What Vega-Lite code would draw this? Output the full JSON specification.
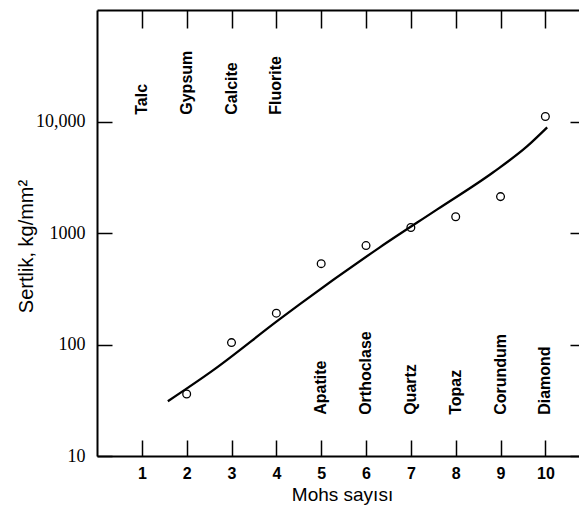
{
  "$schema": "https://vega.github.io/schema/vega-lite/v6.json",
  "width": 482,
  "height": 446,
  "autosize": {"type": "none"},
  "padding": {"left": 97, "top": 10, "right": 0, "bottom": 52},
  "background": "white",
  "config": {
    "view": {"stroke": null},
    "axis": {"grid": false, "domainColor": "black", "tickColor": "black", "domainWidth": 2, "tickWidth": 1.5, "labelColor": "black", "titleColor": "black"}
  },
  "datasets": {
    "minerals": [
      {"mohs": 1, "mineral": "Talc", "hardness": null},
      {"mohs": 2, "mineral": "Gypsum", "hardness": 36},
      {"mohs": 3, "mineral": "Calcite", "hardness": 104},
      {"mohs": 4, "mineral": "Fluorite", "hardness": 191},
      {"mohs": 5, "mineral": "Apatite", "hardness": 531},
      {"mohs": 6, "mineral": "Orthoclase", "hardness": 771},
      {"mohs": 7, "mineral": "Quartz", "hardness": 1120},
      {"mohs": 8, "mineral": "Topaz", "hardness": 1400},
      {"mohs": 9, "mineral": "Corundum", "hardness": 2120},
      {"mohs": 10, "mineral": "Diamond", "hardness": 11100}
    ],
    "fit": [
      {"mohs": 1.58, "hardness": 31},
      {"mohs": 2.57, "hardness": 58},
      {"mohs": 4.06, "hardness": 167},
      {"mohs": 4.51, "hardness": 228},
      {"mohs": 6.3, "hardness": 740},
      {"mohs": 7.58, "hardness": 1620},
      {"mohs": 8.83, "hardness": 3490},
      {"mohs": 9.59, "hardness": 5970},
      {"mohs": 10.04, "hardness": 8850}
    ]
  },
  "resolve": {"axis": {"x": "independent", "y": "independent"}},
  "layer": [
    {
      "data": {"name": "fit"},
      "mark": {"type": "line", "color": "black", "strokeWidth": 2.3, "interpolate": "monotone"},
      "encoding": {
        "x": {"field": "mohs", "type": "quantitative", "scale": {"domain": [0, 10.75], "nice": false, "zero": false},
          "axis": {"orient": "bottom", "values": [1,2,3,4,5,6,7,8,9,10], "tickSize": -16, "labelPadding": 25, "labelFont": "Liberation Sans", "labelFontWeight": "bold", "labelFontSize": 16, "title": "Mohs sayısı", "titleFont": "Liberation Sans", "titleFontWeight": "normal", "titleFontSize": 19, "titlePadding": 4, "titleX": 245}},
        "y": {"field": "hardness", "type": "quantitative", "scale": {"type": "log", "domain": [10, 100000], "nice": false},
          "axis": {"orient": "left", "values": [10, 100, 1000, 10000], "tickSize": -15, "labelPadding": 27, "labelExpr": "datum.value == 10000 ? '10,000' : datum.value", "labelFont": "Liberation Serif", "labelFontSize": 18, "title": "Sertlik, kg/mm²", "titleFont": "Liberation Sans", "titleFontWeight": "normal", "titleFontSize": 20, "titleX": -61, "titleY": 236, "titleBaseline": "bottom"}}
      }
    },
    {
      "data": {"name": "minerals"},
      "mark": {"type": "point", "shape": "circle", "filled": false, "stroke": "black", "strokeWidth": 1.3, "size": 60, "opacity": 1},
      "encoding": {
        "x": {"field": "mohs", "type": "quantitative",
          "axis": {"orient": "top", "values": [1,2,3,4,5,6,7,8,9,10], "tickSize": -18, "labels": false, "title": null}},
        "y": {"field": "hardness", "type": "quantitative",
          "axis": {"orient": "right", "values": [10, 100, 1000, 10000], "tickSize": -9, "labels": false, "domain": false, "title": null}}
      }
    },
    {
      "data": {"name": "minerals"},
      "transform": [{"filter": "datum.mohs <= 4"}],
      "mark": {"type": "text", "angle": 270, "align": "left", "baseline": "middle", "font": "Liberation Sans", "fontWeight": "bold", "fontSize": 16, "color": "black"},
      "encoding": {
        "x": {"field": "mohs", "type": "quantitative", "axis": null},
        "y": {"datum": 11500, "type": "quantitative", "axis": null},
        "text": {"field": "mineral"}
      }
    },
    {
      "data": {"name": "minerals"},
      "transform": [{"filter": "datum.mohs >= 5"}],
      "mark": {"type": "text", "angle": 270, "align": "left", "baseline": "middle", "font": "Liberation Sans", "fontWeight": "bold", "fontSize": 16, "color": "black"},
      "encoding": {
        "x": {"field": "mohs", "type": "quantitative", "axis": null},
        "y": {"datum": 23.4, "type": "quantitative", "axis": null},
        "text": {"field": "mineral"}
      }
    }
  ]
}
